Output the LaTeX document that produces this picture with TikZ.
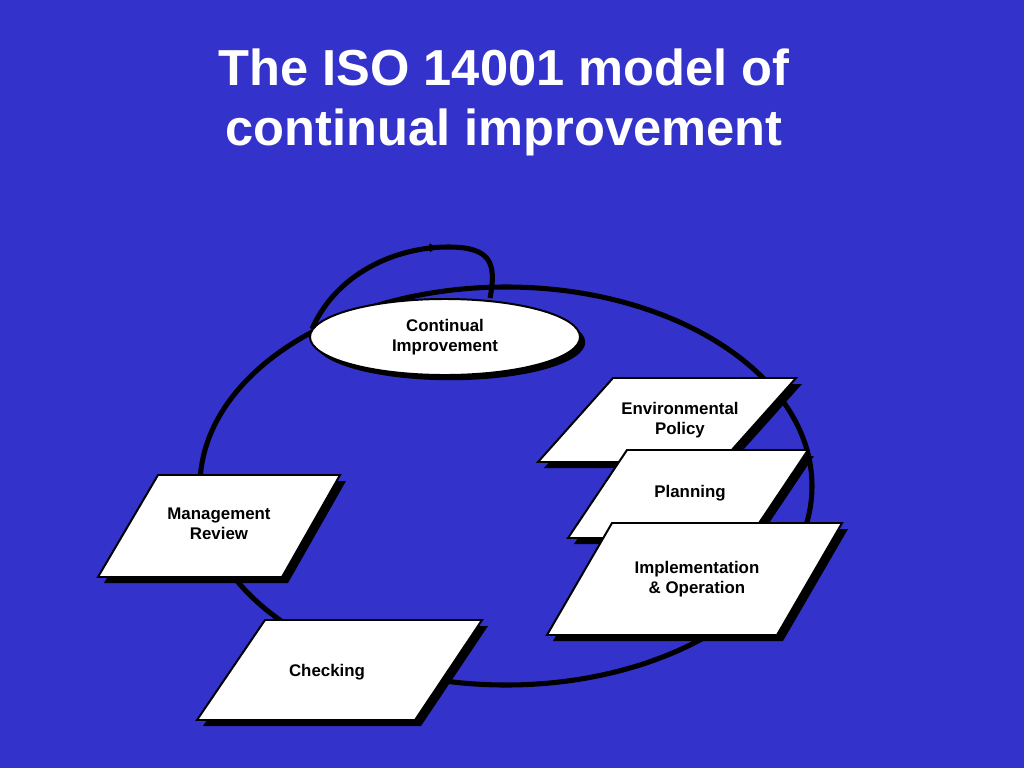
\documentclass[tikz,border=0pt]{standalone}
\usepackage{fontspec}
\setmainfont{Liberation Sans}
\usetikzlibrary{shapes.geometric,arrows.meta,positioning,calc,shadows,decorations.markings}
\definecolor{slideblue}{RGB}{51,51,204}
\tikzstyle{Title} = [text=white, font=\bfseries\fontsize{36}{42.7}\selectfont, align=center]
\tikzstyle{Label} = [font=\bfseries\fontsize{12}{14.2}\selectfont, align=center, inner sep=0pt]
\tikzstyle{Slab} = [draw=black, fill=white, line width=1.4pt, line join=miter,
  drop shadow={shadow xshift=1.5mm, shadow yshift=-1.5mm, fill=black, opacity=1}]
\tikzstyle{Oval} = [draw=black, fill=white, ellipse, line width=1.4pt, minimum width=67.5mm, minimum height=19mm,
  inner sep=0pt, font=\bfseries\fontsize{12}{14.2}\selectfont, align=center,
  drop shadow={shadow xshift=1.3mm, shadow yshift=-1.3mm, fill=black, opacity=1}]
\tikzstyle{Cycle} = [draw=black, line width=3.6pt]

\begin{document}
\begin{tikzpicture}[x=0.25mm, y=-0.25mm]

        %%%%% Background %%%%%

        \fill[slideblue] (0,0) rectangle (1024,768);
        \useasboundingbox (0,0) rectangle (1024,768);

        \node[Title] (title) at (504,102) {The ISO 14001 model of\\continual improvement};

        %%%%% Cycle %%%%%

        \draw[Cycle] (506,486) ellipse [x radius=76.5mm, y radius=49.75mm];
        \draw[Cycle, postaction={decorate}, decoration={markings, mark=at position 0.63 with {\arrow{Latex[length=6pt,width=7pt]}}}]
            (312,329) .. controls (336,274) and (395,247) .. (448,247)
            .. controls (490,247) and (497,262) .. (490,298);

        %%%%% Top %%%%%

        \node[Oval] (ci) at (445,337) {Continual\\Improvement};

        %%%%% Right side %%%%%

        \filldraw[Slab] (613,378) -- (796,378) -- (721,462) -- (538,462) -- cycle;
        \node[Label] (policy) at (680,420) {Environmental\\Policy};

        \filldraw[Slab] (627,450) -- (808,450) -- (749,538) -- (568,538) -- cycle;
        \node[Label] (planning) at (690,493) {Planning};

        \filldraw[Slab] (612,523) -- (842,523) -- (777,635) -- (547,635) -- cycle;
        \node[Label] (implement) at (697,579) {Implementation\\ \& Operation};

        %%%%% Left side %%%%%

        \filldraw[Slab] (158,475) -- (340,475) -- (282,577) -- (98,577) -- cycle;
        \node[Label] (review) at (219,524) {Management\\Review};

        \filldraw[Slab] (265,620) -- (482,620) -- (415,720) -- (197,720) -- cycle;
        \node[Label] (checking) at (327,672) {Checking};

\end{tikzpicture}
\end{document}
